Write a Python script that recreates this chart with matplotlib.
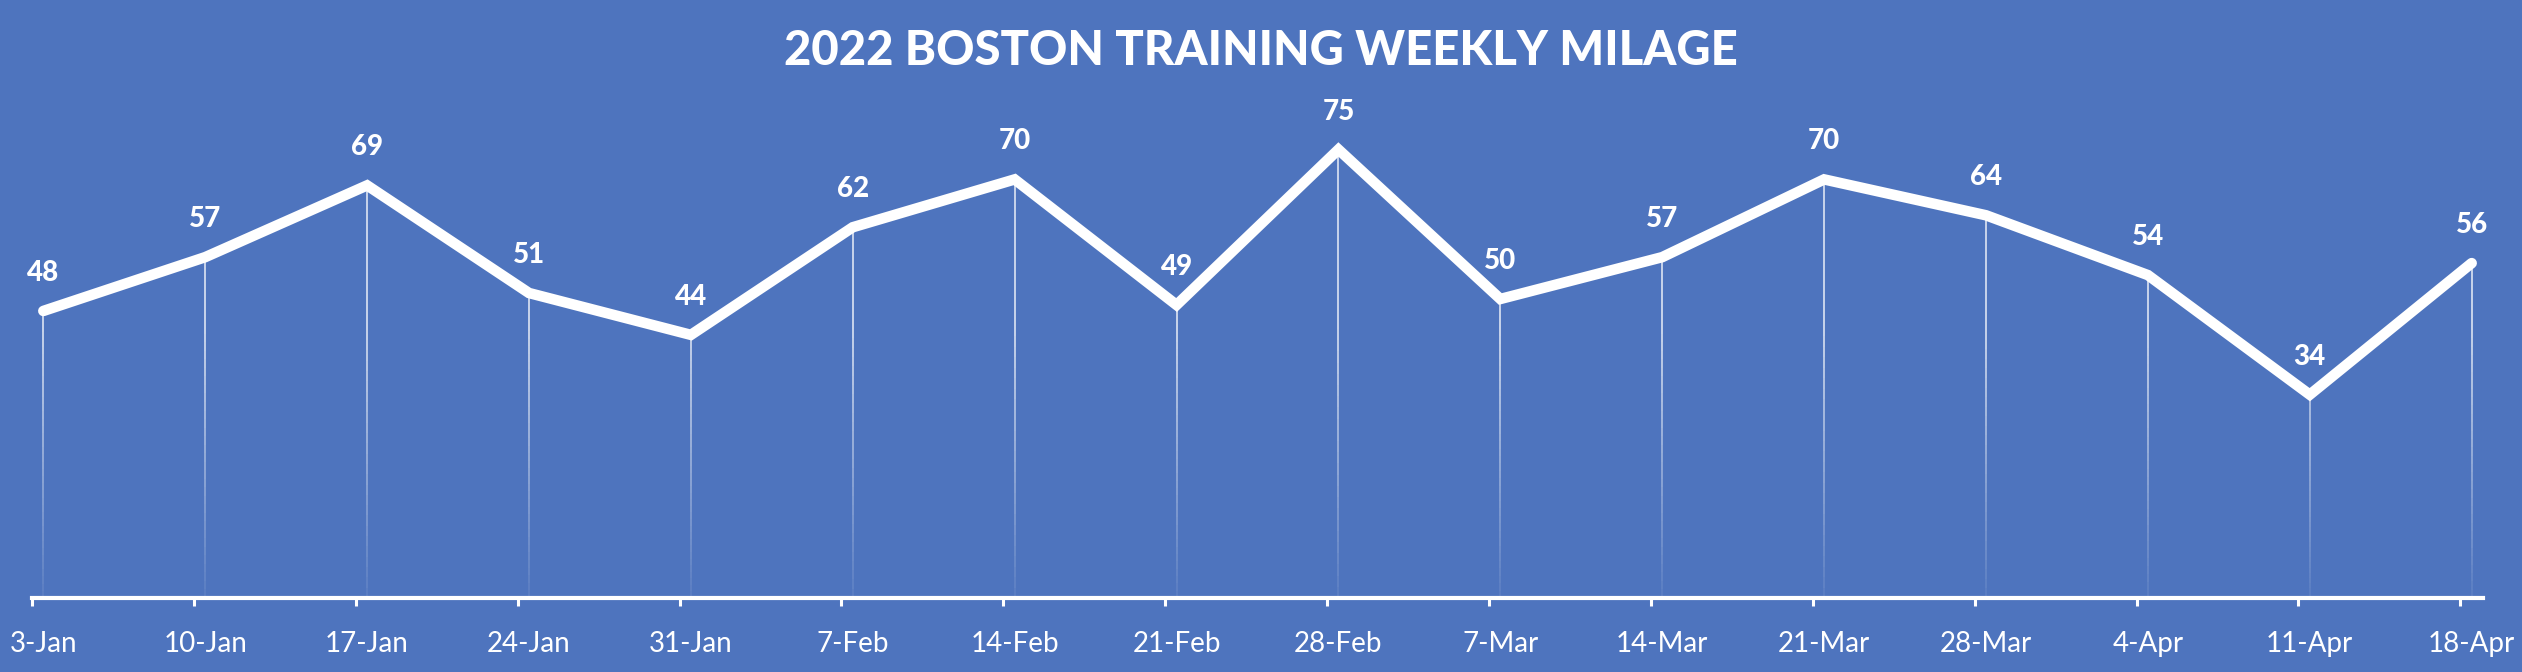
import numpy as np
import matplotlib
matplotlib.use("Agg")
import matplotlib.pyplot as plt

# weekly milage, Jan-Apr 2022
weeks = ["3-Jan", "10-Jan", "17-Jan", "24-Jan", "31-Jan", "7-Feb", "14-Feb", "21-Feb",
         "28-Feb", "7-Mar", "14-Mar", "21-Mar", "28-Mar", "4-Apr", "11-Apr", "18-Apr"]
miles = [48, 57, 69, 51, 44, 62, 70, 49, 75, 50, 57, 70, 64, 54, 34, 56]

bg = "#4e74be"
plt.rcParams['font.family'] = ['Lato', 'DejaVu Sans']

fig = plt.figure(figsize=(25.22, 6.72), dpi=100)
fig.patch.set_facecolor(bg)
ax = fig.add_axes([32 / 2522, 74 / 672, (2483 - 32) / 2522, 598 / 672])
ax.set_facecolor(bg)

x = np.arange(len(weeks))

# drop lines fading towards the axis
n = 40
for xi, yi in zip(x, miles):
    ys = np.linspace(0, yi, n + 1)
    for k in range(n):
        mid = (ys[k] + ys[k + 1]) / 2
        a = 0.08 + 0.8 * min(1.0, mid / 45.0)
        ax.plot([xi, xi], [ys[k], ys[k + 1]], color="white", lw=1.1, alpha=a,
                solid_capstyle="butt", zorder=2)

ax.plot(x, miles, color="white", lw=7.6, solid_joinstyle="miter",
        solid_capstyle="round", zorder=3)

for xi, yi in zip(x, miles):
    ax.annotate(str(yi), (xi, yi), xytext=(0, 18), textcoords="offset points",
                ha="center", va="bottom", color="white", fontsize=20,
                fontweight="black", zorder=4)

ax.set_xlim(-0.07, 15.07)
ax.set_ylim(0, 100)

for s in ["top", "right", "left"]:
    ax.spines[s].set_visible(False)
ax.spines["bottom"].set_color("white")
ax.spines["bottom"].set_linewidth(3)
ax.set_yticks([])

ax.set_xticks(x)
ax.set_xticklabels(weeks)
ax.tick_params(axis="x", which="major", length=0, pad=24, labelsize=20,
               labelcolor="white")
ax.set_xticks(x - 0.07, minor=True)
ax.tick_params(axis="x", which="minor", length=6, width=2.2, color="white",
               direction="out")

fig.text(1261 / 2522, 1 - 51 / 672, "2022 BOSTON TRAINING WEEKLY MILAGE",
         ha="center", va="center", color="white", fontsize=34, fontweight="black")

fig.savefig("out.png", dpi=100, facecolor=bg)
